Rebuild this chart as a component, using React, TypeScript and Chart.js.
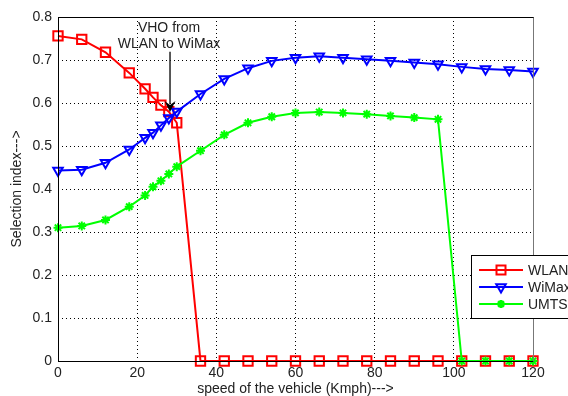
import React, { useEffect, useRef } from "react";
import { Chart, registerables } from "chart.js";

Chart.register(...registerables);

const speed = [0, 6, 12, 18, 22, 24, 26, 28, 30, 36, 42, 48, 54, 60, 66, 72, 78, 84, 90, 96, 102, 108, 114, 120];
const wlan = [0.756, 0.748, 0.718, 0.670, 0.633, 0.613, 0.595, 0.580, 0.554, 0, 0, 0, 0, 0, 0, 0, 0, 0, 0, 0, 0, 0, 0, 0];
const wimax = [0.443, 0.445, 0.461, 0.492, 0.519, 0.531, 0.548, 0.565, 0.580, 0.621, 0.656, 0.681, 0.698, 0.705, 0.709, 0.705, 0.702, 0.698, 0.694, 0.690, 0.684, 0.679, 0.677, 0.673];
const umts = [0.310, 0.314, 0.328, 0.359, 0.385, 0.405, 0.419, 0.435, 0.452, 0.489, 0.526, 0.554, 0.568, 0.577, 0.579, 0.577, 0.574, 0.570, 0.566, 0.562, 0, 0, 0, 0];
const seriesNames = ["WLAN", "WiMax", "UMTS"];
const xTitle = "speed of the vehicle (Kmph)--->";
const yTitle = "Selection index--->";
const noteLines = ["VHO from", "WLAN to WiMax"];
const noteArrow = { x: 28.3, yFrom: 0.719, yTo: 0.579 };
const noteTextY = [0.774, 0.737];

const FONT = "'Liberation Sans', Arial, sans-serif";
const RED = "#ff0000";
const BLUE = "#0000ff";
const GREEN = "#00ff00";

function drawMarker(ctx: CanvasRenderingContext2D, style: string, x: number, y: number, color: string) {
  ctx.save();
  ctx.strokeStyle = color;
  ctx.fillStyle = color;
  ctx.lineWidth = 2;
  ctx.beginPath();
  if (style === "rect") {
    ctx.rect(x - 4.5, y - 4.5, 9, 9);
    ctx.stroke();
  } else if (style === "tri") {
    const r = 5.5;
    ctx.moveTo(x, y + r);
    ctx.lineTo(x - r * 0.866, y - r * 0.5);
    ctx.lineTo(x + r * 0.866, y - r * 0.5);
    ctx.closePath();
    ctx.stroke();
  } else {
    const r = 4;
    ctx.lineWidth = 2.5;
    ctx.moveTo(x - r, y); ctx.lineTo(x + r, y);
    ctx.moveTo(x, y - r); ctx.lineTo(x, y + r);
    const d = r * 0.707;
    ctx.moveTo(x - d, y - d); ctx.lineTo(x + d, y + d);
    ctx.moveTo(x - d, y + d); ctx.lineTo(x + d, y - d);
    ctx.stroke();
  }
  ctx.restore();
}

const framePlugin = {
  id: "frameAndExtras",
  afterDatasetsDraw(chart: any) {
    const { ctx, chartArea: a, scales } = chart;
    ctx.save();
    ctx.lineWidth = 1;
    ctx.strokeStyle = "#000";
    ctx.beginPath();
    ctx.moveTo(a.left + 0.5, a.bottom + 0.5);
    ctx.lineTo(a.left + 0.5, a.top + 0.5);
    ctx.lineTo(a.right + 0.5, a.top + 0.5);
    ctx.moveTo(a.left + 0.5, a.bottom + 0.5);
    ctx.lineTo(a.right + 0.5, a.bottom + 0.5);
    ctx.stroke();
    ctx.strokeStyle = "#777";
    ctx.beginPath();
    ctx.moveTo(a.right + 0.5, a.top + 0.5);
    ctx.lineTo(a.right + 0.5, a.bottom + 0.5);
    ctx.stroke();

    const ax = scales.x.getPixelForValue(noteArrow.x);
    const y0 = scales.y.getPixelForValue(noteArrow.yFrom);
    const y1 = scales.y.getPixelForValue(noteArrow.yTo);
    ctx.strokeStyle = "#222";
    ctx.lineWidth = 1.5;
    ctx.beginPath();
    ctx.moveTo(ax, y0);
    ctx.lineTo(ax, y1 - 8);
    ctx.stroke();
    ctx.fillStyle = "#000";
    ctx.beginPath();
    ctx.moveTo(ax, y1);
    ctx.lineTo(ax - 5.5, y1 - 11);
    ctx.lineTo(ax, y1 - 7);
    ctx.lineTo(ax + 5.5, y1 - 11);
    ctx.closePath();
    ctx.fill();
    ctx.font = `14px ${FONT}`;
    ctx.fillStyle = "#222";
    ctx.textAlign = "center";
    ctx.textBaseline = "middle";
    noteLines.forEach((t, i) => {
      ctx.fillText(t, ax - 1, scales.y.getPixelForValue(noteTextY[i]));
    });

    const lx = 471.5, ly = 255.5, lw = 130, lh = 63;
    ctx.fillStyle = "#fff";
    ctx.fillRect(lx, ly, lw, lh);
    ctx.strokeStyle = "#000";
    ctx.lineWidth = 1;
    ctx.strokeRect(lx, ly, lw, lh);
    const styles = ["rect", "tri", "star"];
    chart.data.datasets.forEach((ds: any, i: number) => {
      const yy = 270 + i * 17;
      ctx.strokeStyle = ds.borderColor;
      ctx.lineWidth = 2;
      ctx.beginPath();
      ctx.moveTo(479, yy);
      ctx.lineTo(523, yy);
      ctx.stroke();
      drawMarker(ctx, styles[i], 501, yy, ds.borderColor);
      ctx.fillStyle = "#222";
      ctx.textAlign = "left";
      ctx.textBaseline = "middle";
      ctx.font = `14px ${FONT}`;
      ctx.fillText(ds.label, 528, yy + 1);
    });
    ctx.restore();
  },
};

export default function App() {
  const ref = useRef<HTMLCanvasElement | null>(null);
  useEffect(() => {
    if (!ref.current) return;
    const mk = (vals: number[]) => speed.map((x, i) => ({ x, y: vals[i] }));
    const chart = new Chart(ref.current, {
      type: "line",
      data: {
        datasets: [
          {
            label: seriesNames[0], data: mk(wlan), borderColor: RED, borderWidth: 2,
            pointStyle: "rect", pointRadius: 6.6, pointBorderWidth: 2, pointBorderColor: RED,
            pointBackgroundColor: "rgba(0,0,0,0)", order: 3, clip: false, tension: 0,
          },
          {
            label: seriesNames[1], data: mk(wimax), borderColor: BLUE, borderWidth: 2,
            pointStyle: "triangle", pointRotation: 180, pointRadius: 5.5, pointBorderWidth: 2,
            pointBorderColor: BLUE, pointBackgroundColor: "rgba(0,0,0,0)", order: 2, clip: false, tension: 0,
          },
          {
            label: seriesNames[2], data: mk(umts), borderColor: GREEN, borderWidth: 2,
            pointStyle: "star", pointRadius: 4.5, pointBorderWidth: 2, pointBorderColor: GREEN,
            pointBackgroundColor: GREEN, order: 1, clip: false, tension: 0,
          },
        ] as any,
      },
      options: {
        animation: false,
        responsive: false,
        events: [],
        layout: { padding: { top: 17, right: 35, left: 0, bottom: 0 } },
        plugins: { legend: { display: false }, tooltip: { enabled: false } },
        scales: {
          x: {
            type: "linear", min: 0, max: 120,
            ticks: { stepSize: 20, color: "#222", font: { family: FONT, size: 14 }, padding: 4, maxRotation: 0 },
            grid: { color: "#000", lineWidth: 1, drawTicks: false },
            border: { display: false, dash: [1, 3] },
            title: { display: true, text: xTitle, color: "#222", font: { family: FONT, size: 14, lineHeight: 1 }, padding: { top: 0, bottom: 0 } },
            afterFit: (s: any) => { s.height = 35; s.paddingLeft = 0; s.paddingRight = 0; },
          },
          y: {
            type: "linear", min: 0, max: 0.8,
            ticks: {
              stepSize: 0.1, color: "#222", font: { family: FONT, size: 14 }, padding: 6,
              callback: (v: any) => String(Number(Number(v).toFixed(1))),
            },
            grid: { color: "#000", lineWidth: 1, drawTicks: false },
            border: { display: false, dash: [1, 3] },
            title: { display: true, text: yTitle, color: "#222", font: { family: FONT, size: 14 }, padding: { top: 9, bottom: 0 } },
            afterFit: (s: any) => { s.width = 58; s.paddingTop = 0; s.paddingBottom = 0; },
          },
        },
      } as any,
      plugins: [framePlugin],
    });
    return () => chart.destroy();
  }, []);
  return (
    <div style={{ position: "fixed", left: 0, top: 0, width: 568, height: 396, background: "#fff" }}>
      <canvas ref={ref} width={568} height={396} style={{ width: 568, height: 396, display: "block" }} />
    </div>
  );
}
